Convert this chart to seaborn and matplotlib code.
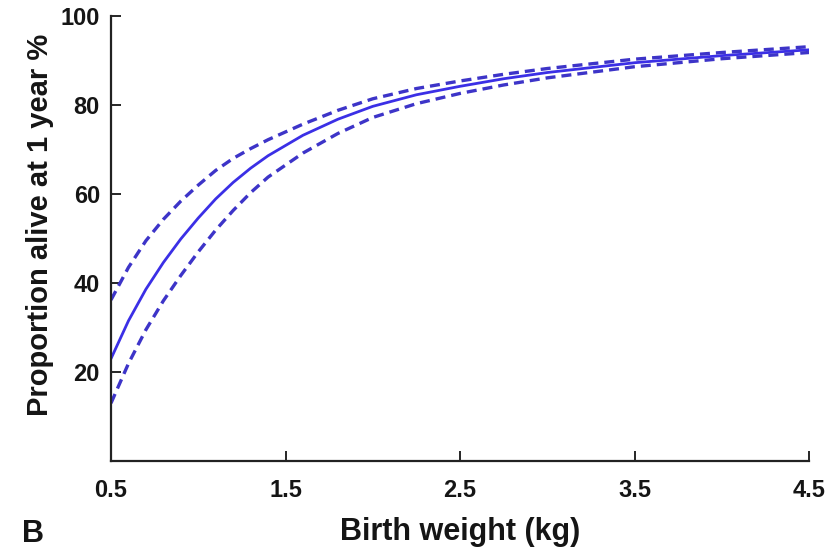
import pandas as pd
import seaborn as sns
import matplotlib.pyplot as plt

# birth weight (kg) and proportion alive at 1 year (%)
weight = [0.5, 0.6, 0.7, 0.8, 0.9, 1.0, 1.1, 1.2, 1.3, 1.4, 1.6, 1.8, 2.0,
          2.25, 2.5, 2.75, 3.0, 3.5, 4.0, 4.5]
fit = [23.0, 31.5, 38.6, 44.6, 49.9, 54.6, 58.9, 62.6, 65.8, 68.6, 73.2, 76.8, 79.7,
       82.3, 84.2, 85.9, 87.3, 89.5, 91.1, 92.4]
upper = [36.2, 43.5, 49.5, 54.3, 58.4, 62.0, 65.3, 68.0, 70.2, 72.2, 75.7, 78.8, 81.4,
         83.7, 85.4, 86.9, 88.2, 90.3, 91.8, 93.1]
lower = [13.0, 21.9, 29.5, 36.0, 41.7, 47.0, 51.9, 56.3, 60.3, 63.8, 69.2, 73.6, 77.2,
         80.3, 82.6, 84.5, 86.1, 88.6, 90.4, 91.8]

x_ticks = [0.5, 1.5, 2.5, 3.5, 4.5]
y_ticks = [20, 40, 60, 80, 100]

df = pd.concat([
    pd.DataFrame({"weight": weight, "pct": fit, "curve": "fit"}),
    pd.DataFrame({"weight": weight, "pct": upper, "curve": "upper"}),
    pd.DataFrame({"weight": weight, "pct": lower, "curve": "lower"}),
])

sns.set_style("ticks")
plt.rcParams["font.family"] = ["Liberation Sans", "DejaVu Sans"]
plt.rcParams["font.weight"] = "bold"

fig = plt.figure(figsize=(8.39, 5.5), dpi=100)
ax = fig.add_axes([0.1323, 0.1618, 0.832, 0.8091])

blue = "#3a30dc"
sns.lineplot(data=df, x="weight", y="pct", hue="curve", style="curve",
             palette={"fit": "#3b2fe6", "upper": "#3d34c8", "lower": "#3d34c8"},
             dashes={"fit": "", "upper": (3.0, 1.8), "lower": (3.0, 1.8)},
             ax=ax, legend=False, linewidth=2.4)
for ln in ax.lines:
    if ln.get_linestyle() == "-":
        ln.set_linewidth(2.0)

ax.set_xlim(0.5, 4.5)
ax.set_ylim(0, 100)
ax.set_xticks(x_ticks)
ax.set_xticklabels([str(t) for t in x_ticks])
ax.set_yticks(y_ticks)
ax.tick_params(direction="in", length=7, width=1.3, labelsize=17, colors="#151515")
ax.tick_params(axis="x", pad=13)
ax.tick_params(axis="y", pad=8)
for lab in ax.get_xticklabels() + ax.get_yticklabels():
    lab.set_fontweight("bold")
sns.despine(ax=ax)
for s in ["left", "bottom"]:
    ax.spines[s].set_linewidth(1.6)
    ax.spines[s].set_color("#222222")

ax.set_xlabel("Birth weight (kg)", fontsize=22, fontweight="bold", color="#151515")
ax.set_ylabel("Proportion alive at 1 year %", fontsize=21, fontweight="bold", color="#151515")
ax.xaxis.set_label_coords(0.5, -0.126)
ax.yaxis.set_label_coords(-0.082, 0.53)
fig.text(0.026, 0.014, "B", fontsize=22, fontweight="bold", color="#151515")

fig.savefig("out.png", dpi=100)
